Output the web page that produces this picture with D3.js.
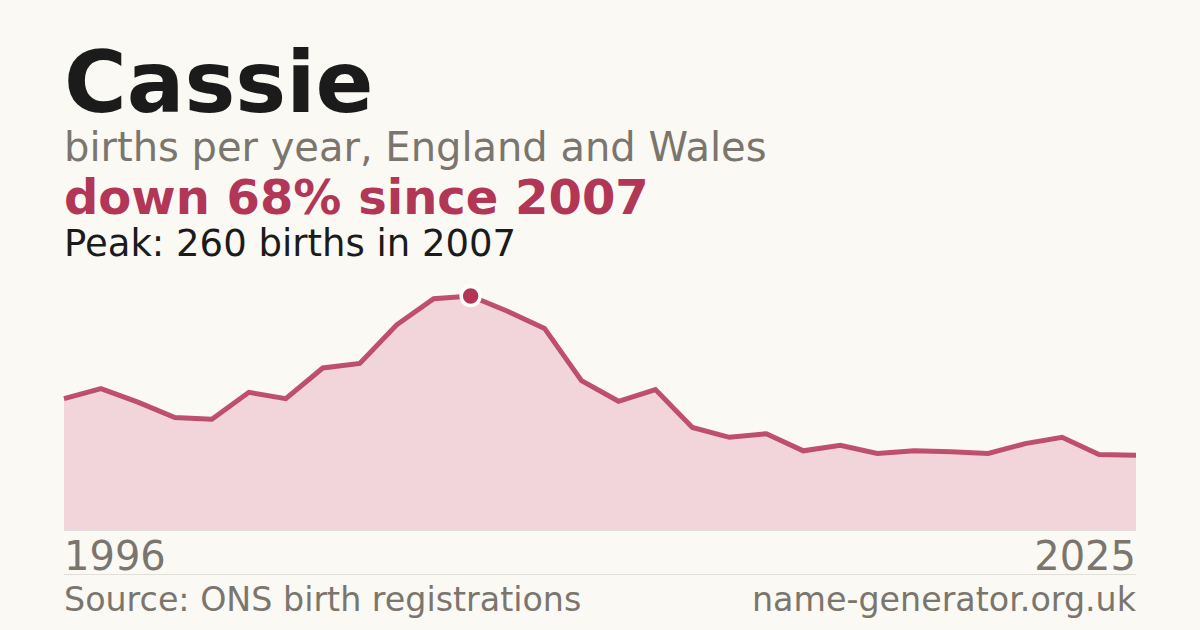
<!DOCTYPE html>
<html>
<head>
<meta charset="utf-8">
<script src="https://cdn.jsdelivr.net/npm/d3@7"></script>
<style>
  html, body { margin: 0; padding: 0; background: #faf9f4; }
  svg { display: block; font-family: "DejaVu Sans", sans-serif; }
</style>
</head>
<body>
<script>
// births per year
let years = d3.range(1996, 2026);
let births = [146, 157, 142, 125, 123, 153, 146, 180, 185, 228,
              257, 260, 243, 224, 166, 143, 156, 114, 103, 107,
              88, 94, 85, 88, 87, 85, 96, 103, 84, 83];
let nameLabel = "Cassie";
let subtitle = "births per year, England and Wales";
let sourceText = "Source: ONS birth registrations";
let siteText = "name-generator.org.uk";

let width = 1200, height = 630;
let margin = {left: 64, right: 64, top: 296, bottom: 100};

let data = years.map((y, i) => ({year: y, v: births[i]}));
let peak = data.reduce((a, b) => b.v > a.v ? b : a);
let last = data[data.length - 1];
let change = Math.round((peak.v - last.v) / peak.v * 100);

let svg = d3.select("body").append("svg")
    .attr("width", width)
    .attr("height", height);

svg.append("rect")
    .attr("width", width)
    .attr("height", height)
    .attr("fill", "#faf9f4");

let xScale = d3.scaleLinear()
    .domain(d3.extent(years))
    .range([margin.left, width - margin.right]);

let yScale = d3.scaleLinear()
    .domain([0, peak.v])
    .range([height - margin.bottom, margin.top]);

// headline text
svg.append("text")
    .attr("x", 64).attr("y", 112)
    .attr("font-size", 85.5).attr("font-weight", "bold")
    .attr("fill", "#1b1b1b")
    .text(nameLabel);

svg.append("text")
    .attr("x", 64).attr("y", 161)
    .attr("font-size", 40)
    .attr("fill", "#7a766e")
    .text(subtitle);

svg.append("text")
    .attr("x", 64).attr("y", 214)
    .attr("font-size", 48).attr("font-weight", "bold")
    .attr("fill", "#b23656")
    .text("down " + change + "% since " + peak.year);

svg.append("text")
    .attr("x", 64).attr("y", 256)
    .attr("font-size", 37)
    .attr("fill", "#1b1b1b")
    .text("Peak: " + peak.v + " births in " + peak.year);

// area + line
svg.append("path")
    .datum(data)
    .attr("fill", "#f1d5da")
    .attr("d", d3.area()
        .x(d => xScale(d.year))
        .y0(yScale(0))
        .y1(d => yScale(d.v)));

svg.append("line")
    .attr("x1", margin.left).attr("x2", width - margin.right)
    .attr("y1", yScale(0) + 0.5).attr("y2", yScale(0) + 0.5)
    .attr("stroke", "#e2dfd8").attr("stroke-width", 1);

svg.append("path")
    .datum(data)
    .attr("fill", "none")
    .attr("stroke", "#b83e60")
    .attr("stroke-opacity", 0.9)
    .attr("stroke-width", 5)
    .attr("stroke-linejoin", "miter")
    .attr("d", d3.line()
        .x(d => xScale(d.year))
        .y(d => yScale(d.v)));

svg.append("circle")
    .attr("cx", xScale(peak.year))
    .attr("cy", yScale(peak.v))
    .attr("r", 9.5)
    .attr("fill", "#b23656")
    .attr("stroke", "#ffffff")
    .attr("stroke-width", 3.5);

// year labels
let xAxis = svg.append("g")
    .attr("font-size", 40)
    .attr("fill", "#7a766e");

xAxis.append("text")
    .attr("x", xScale(years[0])).attr("y", 570)
    .text(years[0]);

xAxis.append("text")
    .attr("x", xScale(years[years.length - 1])).attr("y", 570)
    .attr("text-anchor", "end")
    .text(years[years.length - 1]);

svg.append("line")
    .attr("x1", margin.left).attr("x2", width - margin.right)
    .attr("y1", 574.5).attr("y2", 574.5)
    .attr("stroke", "#e2dfd8").attr("stroke-width", 1);

// footer
svg.append("text")
    .attr("x", 64).attr("y", 611)
    .attr("font-size", 33.3)
    .attr("fill", "#7a766e")
    .text(sourceText);

svg.append("text")
    .attr("x", width - margin.right).attr("y", 611)
    .attr("font-size", 33.3)
    .attr("text-anchor", "end")
    .attr("fill", "#7a766e")
    .text(siteText);
</script>
</body>
</html>
